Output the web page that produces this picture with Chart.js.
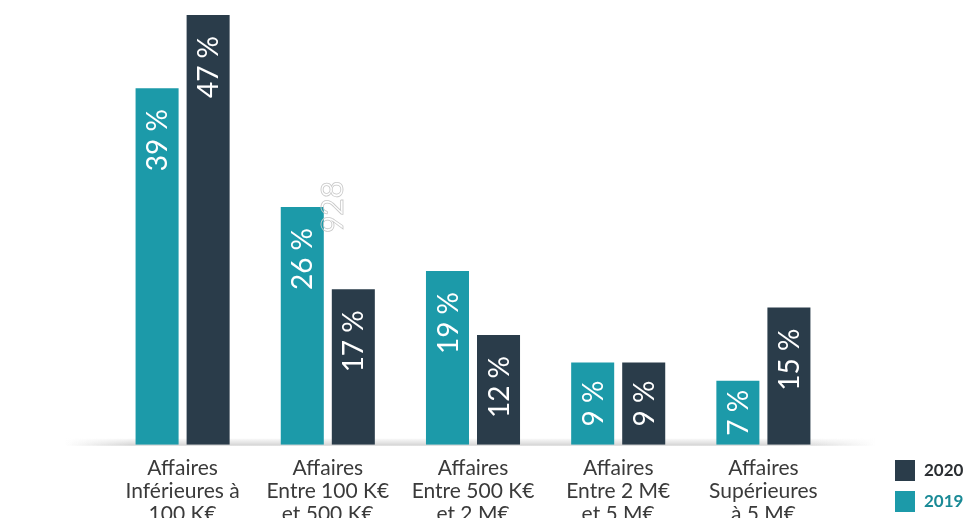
<!DOCTYPE html>
<html>
<head>
<meta charset="utf-8">
<script src="https://cdn.jsdelivr.net/npm/chart.js@4"></script>
<style>
  html, body { margin:0; padding:0; background:#fff; }
  #wrap { width:965px; height:518px; }
</style>
</head>
<body>
<div id="wrap"><canvas id="chart" width="965" height="518"></canvas></div>
<script>
// =======================
// DATA
// =======================
const categories = [
  ['Affaires', 'Inférieures à', '100 K€'],
  ['Affaires', 'Entre 100 K€', 'et 500 K€'],
  ['Affaires', 'Entre 500 K€', 'et 2 M€'],
  ['Affaires', 'Entre 2 M€', 'et 5 M€'],
  ['Affaires', 'Supérieures', 'à 5 M€']
];
const values2019 = [39, 26, 19, 9, 7];
const values2020 = [47, 17, 12, 9, 15];
const seriesNames = ['2019', '2020'];

const TEAL = '#1c9aa9';
const DARK = '#2a3c4a';
const FONT = 'Lato, "Open Sans", sans-serif';

// =======================
// PLUGINS
// =======================
// soft grey strip under the bars
const baseShadow = {
  id: 'baseShadow',
  beforeDatasetsDraw(chart) {
    const { ctx, chartArea } = chart;
    const y = chartArea.bottom;
    const x0 = chartArea.left - 45, x1 = chartArea.right + 40;
    ctx.save();
    const g = ctx.createLinearGradient(x0, 0, x1, 0);
    g.addColorStop(0, 'rgba(200,200,200,0)');
    g.addColorStop(0.08, 'rgba(200,200,200,0.8)');
    g.addColorStop(0.9, 'rgba(200,200,200,0.8)');
    g.addColorStop(1, 'rgba(200,200,200,0)');
    ctx.fillStyle = g;
    ctx.fillRect(x0, y - 6, x1 - x0, 7);
    const v = ctx.createLinearGradient(0, y - 7, 0, y + 1);
    v.addColorStop(0, 'rgba(255,255,255,1)');
    v.addColorStop(1, 'rgba(255,255,255,0)');
    ctx.fillStyle = v;
    ctx.fillRect(x0, y - 7, x1 - x0, 8);
    ctx.restore();
  }
};

// rotated percent labels inside the bars + stray "928" mark
const barLabels = {
  id: 'barLabels',
  afterDatasetsDraw(chart) {
    const { ctx } = chart;
    ctx.save();
    ctx.font = '28px ' + FONT;
    ctx.fillStyle = '#ffffff';
    ctx.textAlign = 'right';
    ctx.textBaseline = 'middle';
    chart.data.datasets.forEach((ds, i) => {
      chart.getDatasetMeta(i).data.forEach((bar, j) => {
        const txt = ds.data[j] + ' %';
        const w = ctx.measureText(txt).width;
        const h = bar.base - bar.y;
        const off = Math.min(21, (h - w) / 2);
        ctx.save();
        ctx.translate(bar.x + 1, bar.y + off);
        ctx.rotate(-Math.PI / 2);
        ctx.fillText(txt, 0, 0);
        ctx.restore();
      });
    });
    // faint outlined mark
    ctx.translate(333, 207);
    ctx.rotate(-Math.PI / 2);
    ctx.textAlign = 'center';
    ctx.font = '30px ' + FONT;
    ctx.strokeStyle = '#c8c8c8';
    ctx.lineWidth = 0.8;
    ctx.strokeText('928', 0, 0);
    ctx.restore();
  }
};

// legend bottom right
const sideLegend = {
  id: 'sideLegend',
  afterDraw(chart) {
    const { ctx } = chart;
    const items = [
      { text: seriesNames[1], color: DARK, y: 460 },
      { text: seriesNames[0], color: TEAL, y: 491 }
    ];
    ctx.save();
    ctx.font = 'bold 17px ' + FONT;
    ctx.textBaseline = 'middle';
    ctx.textAlign = 'left';
    items.forEach(it => {
      ctx.fillStyle = it.color;
      ctx.fillRect(895, it.y, 20, 21);
      ctx.fillStyle = it.color === TEAL ? '#1a8a96' : '#2b2f33';
      ctx.fillText(it.text, 924, it.y + 11);
    });
    ctx.restore();
  }
};

// =======================
// CHART
// =======================
new Chart(document.getElementById('chart'), {
  type: 'bar',
  data: {
    labels: categories,
    datasets: [
      { label: seriesNames[0], data: values2019, backgroundColor: TEAL },
      { label: seriesNames[1], data: values2020, backgroundColor: DARK }
    ]
  },
  options: {
    responsive: false,
    animation: false,
    categoryPercentage: 0.703,
    barPercentage: 0.843,
    layout: { padding: { left: 110, right: 129, top: 15, bottom: -20 } },
    plugins: { legend: { display: false }, tooltip: { enabled: false } },
    scales: {
      y: { display: false, min: 0, max: 47 },
      x: {
        grid: { display: false, drawTicks: false },
        border: { display: false },
        ticks: {
          color: '#3a3a3a',
          font: { family: FONT, size: 21, lineHeight: 1.1 },
          padding: 12,
          maxRotation: 0,
          autoSkip: false
        }
      }
    }
  },
  plugins: [baseShadow, barLabels, sideLegend]
});
</script>
</body>
</html>
